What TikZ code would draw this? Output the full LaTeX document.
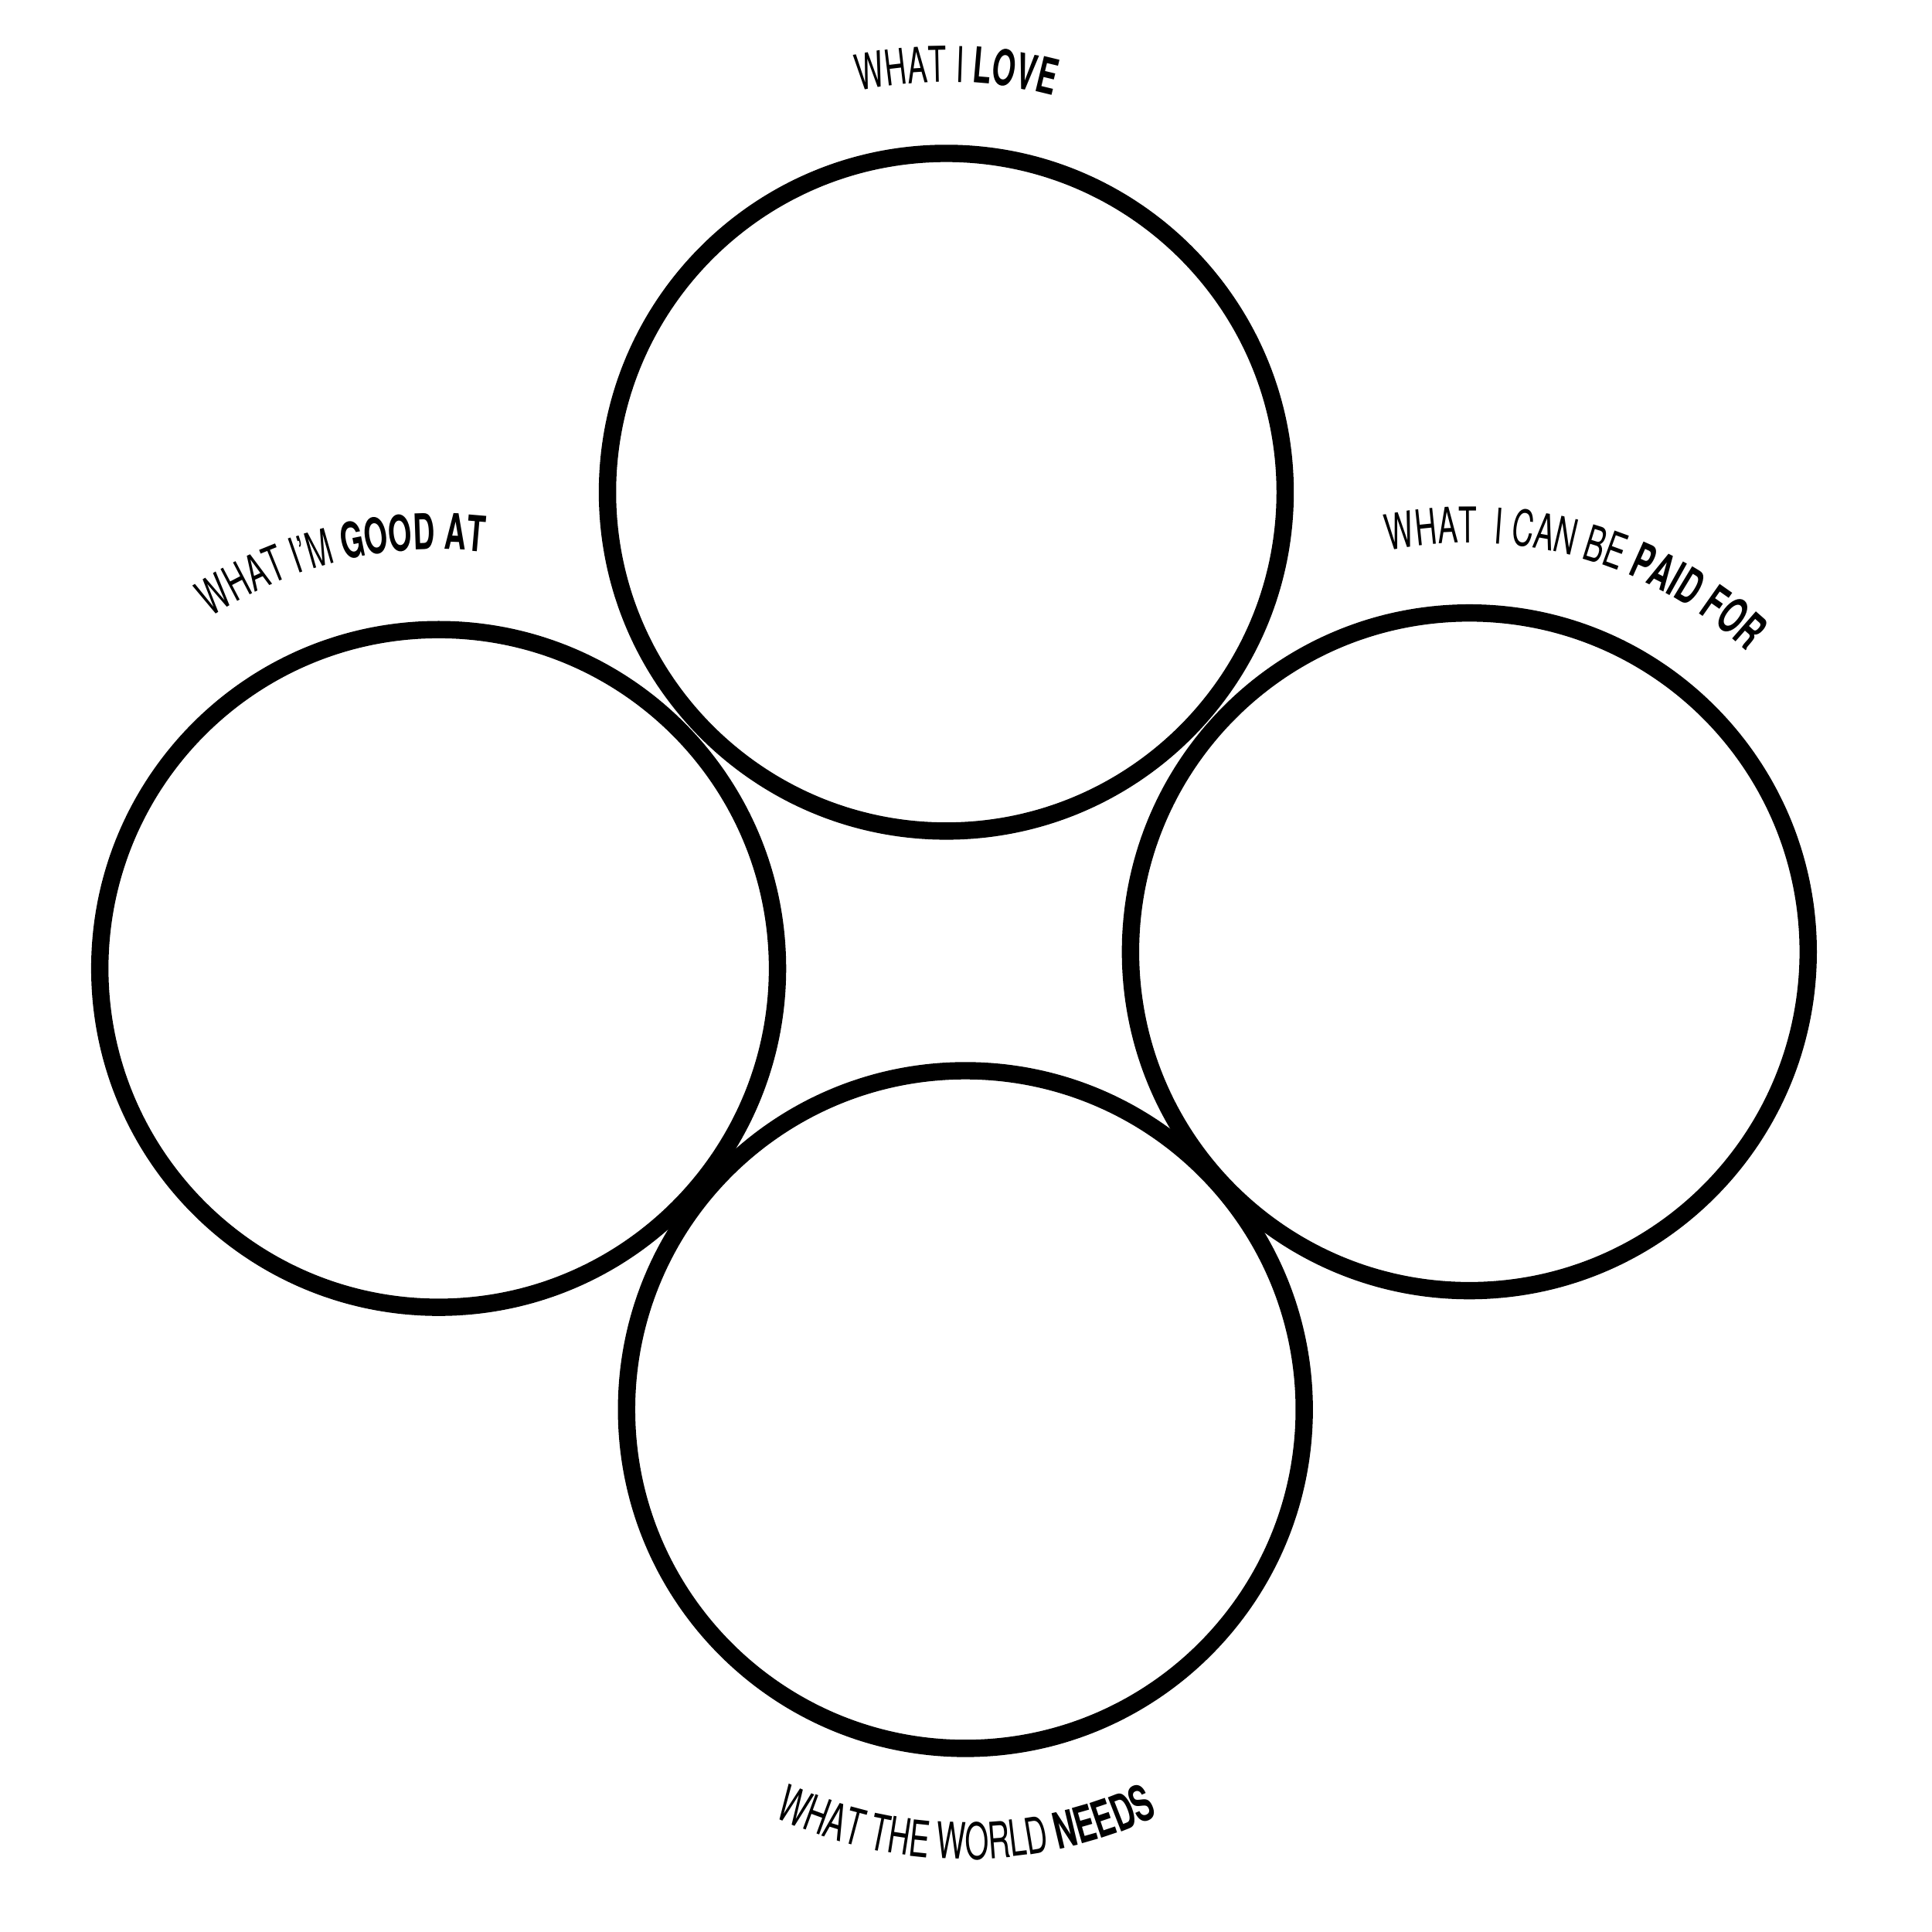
\documentclass[tikz,border=0pt]{standalone}
\usepackage{fontspec}
\newfontfamily\condsans[FakeStretch=0.61]{TeX Gyre Heros}
\usetikzlibrary{decorations.text}

\newcommand{\lblfont}[1]{\fontsize{#1}{#1}\selectfont\condsans}

\begin{document}
\begin{tikzpicture}[
  ring/.style={draw=black, line width=4pt, circle, minimum size=5.5cm, inner sep=0pt},
  arclabel/.style={decorate, decoration={text along path, text align=center, text={#1}}}
]
\useasboundingbox (0,0) rectangle (15.68,15.68);

% the four circles
\node[ring] (love) at (7.68, 11.685) {};
\node[ring] (good) at (3.56, 7.82) {};
\node[ring] (paid) at (11.925, 7.955) {};
\node[ring] (needs) at (7.835, 4.24) {};

% curved titles
\path[arclabel={|\lblfont{11.4}|WHAT I |\lblfont{11.4}\bfseries|LOVE}]
  ([shift={(118.6:3.33)}]love.center) arc[start angle=118.6, end angle=58.6, radius=3.33];
\path[arclabel={|\lblfont{11.4}|WHAT I’M |\lblfont{11.4}\bfseries|GOOD AT}]
  ([shift={(143.4:3.40)}]good.center) arc[start angle=143.4, end angle=63.4, radius=3.40];
\path[arclabel={|\lblfont{11.4}|WHAT~ I CAN BE |\lblfont{11.4}\bfseries|PAID FOR}]
  ([shift={(114.3:3.32)}]paid.center) arc[start angle=114.3, end angle=34.3, radius=3.32];
\path[arclabel={|\lblfont{11.6}|WHAT THE WORLD |\lblfont{11.6}\bfseries|NEEDS}]
  ([shift={(230.1:3.65)}]needs.center) arc[start angle=230.1, end angle=310.1, radius=3.65];

\end{tikzpicture}
\end{document}
